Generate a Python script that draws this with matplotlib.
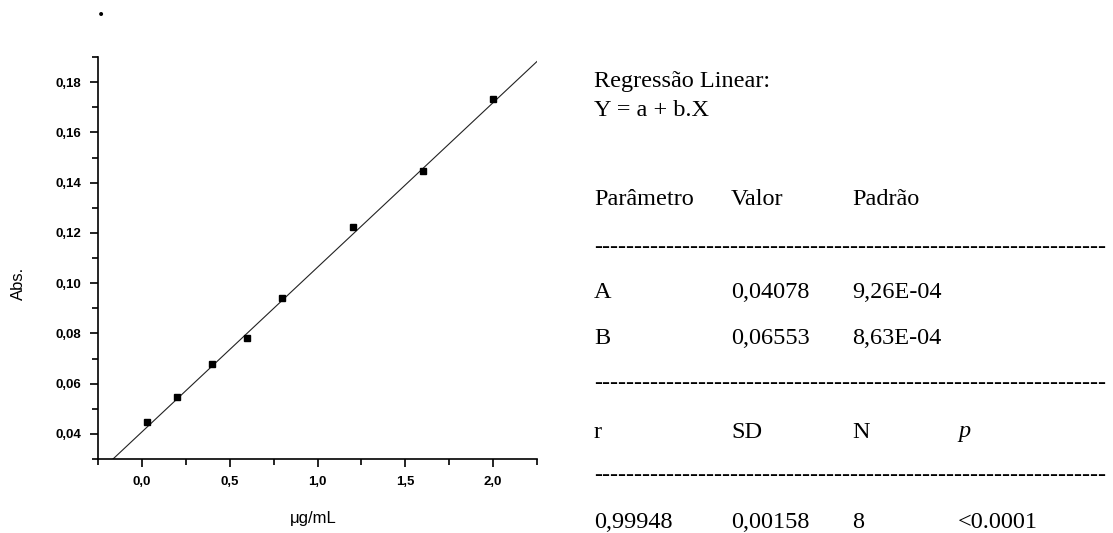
import matplotlib
matplotlib.use("Agg")
import matplotlib.pyplot as plt
from matplotlib.ticker import MultipleLocator, FuncFormatter

# Calibration data
conc_ug_ml = [0.03, 0.2, 0.4, 0.6, 0.8, 1.2, 1.6, 2.0]
absorbance = [0.0449, 0.0548, 0.0679, 0.0782, 0.0940, 0.1224, 0.1445, 0.1731]

# Linear regression results
coef_a = 0.04078
coef_b = 0.06553
table_header = ["Parâmetro", "Valor", "Padrão"]
row_a = ["A", "0,04078", "9,26E-04"]
row_b = ["B", "0,06553", "8,63E-04"]
stats_header = ["r", "SD", "N", "p"]
stats_values = ["0,99948", "0,00158", "8", "<0.0001"]

W, H = 1113, 533
fig = plt.figure(figsize=(W / 100, H / 100), dpi=100)
fig.patch.set_facecolor("white")

ax = fig.add_axes([98 / W, 1 - 459 / H, (537 - 98) / W, (459 - 57) / H])
ax.set_xlim(-0.25, 2.25)
ax.set_ylim(0.03, 0.19)

# fitted line over the full x range
fx = [ax.get_xlim()[0], ax.get_xlim()[1]]
fy = [coef_a + coef_b * v for v in fx]
ax.plot(fx, fy, color="#222222", lw=0.8, zorder=2)
ax.plot(conc_ug_ml, absorbance, ls="none", marker="s", ms=5,
        mfc="black", mec="black", zorder=3)

for s in ["top", "right"]:
    ax.spines[s].set_visible(False)
for s in ["left", "bottom"]:
    ax.spines[s].set_linewidth(1.2)
    ax.spines[s].set_color("black")

ax.xaxis.set_major_locator(MultipleLocator(0.5))
ax.xaxis.set_minor_locator(MultipleLocator(0.25))
ax.yaxis.set_major_locator(MultipleLocator(0.02))
ax.yaxis.set_minor_locator(MultipleLocator(0.01))

comma = lambda fmt: FuncFormatter(lambda v, p: (fmt % v).replace(".", ","))
ax.xaxis.set_major_formatter(comma("%.1f"))
ax.yaxis.set_major_formatter(comma("%.2f"))

ax.tick_params(which="major", direction="out", length=6, width=1.2,
               labelsize=9.5, pad=6)
ax.tick_params(which="minor", direction="out", length=4, width=1.2)
for lab in ax.get_xticklabels() + ax.get_yticklabels():
    lab.set_fontfamily("Liberation Sans")
    lab.set_fontweight("bold")

ax.set_xlabel("μg/mL", fontsize=12, family="Liberation Sans", labelpad=12)
ax.xaxis.set_label_coords((313 - 98) / (537 - 98), -(511 - 459) / (459 - 57))
ax.set_ylabel("Abs.", fontsize=12, family="Liberation Sans")
ax.yaxis.set_label_coords(-(98 - 26) / (537 - 98), (459 - 283) / (459 - 57))

# stray period at the top-left
fig.text(101 / W, 1 - 16 / H, ".", fontsize=18, family="Liberation Serif",
         fontweight="bold", ha="center", va="baseline")

# regression summary text
serif = dict(family="Liberation Serif", fontsize=17.5, color="black",
             va="center", ha="left")
cols = [594, 731, 852, 958]

def put(x, y, s, **kw):
    d = dict(serif)
    d.update(kw)
    fig.text(x / W, 1 - y / H, s, **d)

put(cols[0], 81, "Regressão Linear:")
put(cols[0], 111, "Y = a + b.X")
for c, s in zip(cols, table_header):
    put(c, 200, s)
dash = "-" * 64
put(cols[0], 247, dash)
for c, s in zip(cols, row_a):
    put(c, 293, s)
for c, s in zip(cols, row_b):
    put(c, 339, s)
put(cols[0], 384, dash)
for c, s in zip(cols, stats_header):
    put(c, 432, s, style="italic" if s == "p" else "normal")
put(cols[0], 476, dash)
for c, s in zip(cols, stats_values):
    put(c, 522, s)

fig.savefig("out.png", dpi=100, facecolor="white")
